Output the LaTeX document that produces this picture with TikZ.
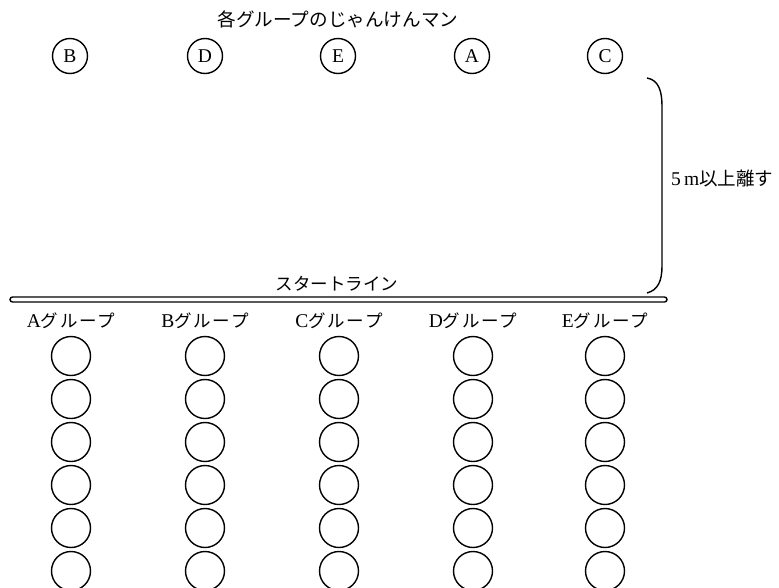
\documentclass[tikz,border=0pt]{standalone}
\usepackage{fontspec}
\setmainfont{Liberation Serif}
\newfontfamily\jp{Noto Sans CJK JP}
\begin{document}
\begin{tikzpicture}[x=1pt,y=-1pt,
  person/.style={circle,draw,line width=1.4pt,minimum size=39pt,inner sep=0pt},
  jman/.style={circle,draw,line width=1.4pt,minimum size=35pt,inner sep=0pt,font=\fontsize{19.5}{20}\selectfont},
  lbl/.style={inner sep=0pt,font=\fontsize{19.5}{20}\selectfont},
  jtxt/.style={inner sep=0pt,font=\jp\fontsize{17.5}{18}\selectfont}]
\useasboundingbox (0,0) rectangle (779,587);
\clip (0,0) rectangle (779,587);
% title
\node[jtxt,font=\jp\fontsize{18.6}{19}\selectfont] (title) at (338,19) {各グループのじゃんけんマン};
% janken men
\node[jman] (jB) at (70,56) {B};
\node[jman] (jD) at (205,56) {D};
\node[jman] (jE) at (338,56) {E};
\node[jman] (jA) at (472,56) {A};
\node[jman] (jC) at (605,56) {C};
% brace
\coordinate (bt) at (647,78);
\coordinate (bb) at (647,293);
\draw[line width=1.4pt] (bt) .. controls (659,80) and (662,92) .. (662,106) -- (662,266) .. controls (662,281) and (658,290) .. (bb);
\node[lbl,anchor=west] (dist) at (671,178) {5\,m{\jp\fontsize{18.5}{19}\selectfont 以上離す}};
% start line
\node[jtxt] (slabel) at (337,284) {スタートライン};
\draw[line width=1.4pt,rounded corners=2.5pt] (10,297) rectangle (667,302);
\node[inner sep=0pt] (sline) at (338,299.5) {};
% groups
\foreach \g/\x in {A/71,B/205,C/339,D/473,E/605}{
  \node[lbl] (g\g) at (\x,321) {\g{\jp\fontsize{17.5}{18}\selectfont\addfontfeature{LetterSpace=10}グループ}};
  \foreach \i/\y in {1/356,2/399,3/442,4/485,5/528,6/571}{
    \node[person] (p\g\i) at (\x,\y) {};
  }
}
\end{tikzpicture}
\end{document}
